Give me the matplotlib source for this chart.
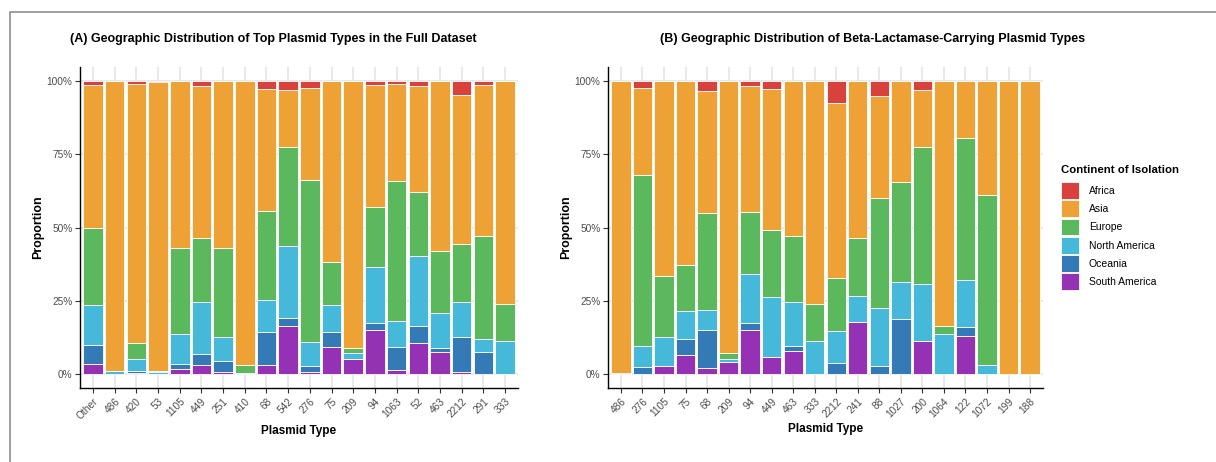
import numpy as np
import matplotlib
matplotlib.use("Agg")
import matplotlib.pyplot as plt
from matplotlib.patches import Patch, Rectangle

plt.rcParams['font.family'] = ['Liberation Sans', 'DejaVu Sans']

continents = ["Africa", "Asia", "Europe", "North America", "Oceania", "South America"]
colors = {
    "Africa": "#D9413D",
    "Asia": "#EEA236",
    "Europe": "#5CB85C",
    "North America": "#46B8DA",
    "Oceania": "#337AB7",
    "South America": "#9531B5",
}

# panel A: top plasmid types, full dataset (percent of isolates per continent)
types_a = ["Other", "486", "420", "53", "1105", "449", "251", "410", "68", "542",
           "276", "75", "209", "94", "1063", "52", "463", "2212", "291", "333"]
sam_a = [3.4, 0, 0.3, 0, 1.6, 3.0, 0.6, 0, 3.0, 16.3, 0.6, 9.1, 4.9, 15.1, 1.4, 10.5, 7.3, 0.7, 0, 0]
oce_a = [6.5, 0, 0.5, 0, 1.7, 3.7, 3.7, 0, 11.1, 2.6, 2.1, 5.0, 0.2, 2.1, 7.7, 5.8, 1.5, 12.0, 7.5, 0]
nam_a = [13.5, 0.9, 4.1, 0.6, 10.3, 17.9, 8.4, 0.3, 11.2, 24.9, 8.2, 9.3, 1.9, 19.2, 8.9, 24.0, 12.0, 11.7, 4.2, 11.2]
eur_a = [26.4, 0, 5.6, 0.3, 29.5, 21.8, 30.4, 2.7, 30.3, 33.7, 55.3, 14.8, 1.8, 20.6, 47.9, 21.8, 21.2, 20.1, 35.5, 12.6]
asi_a = [49.1, 99.1, 88.7, 98.8, 56.9, 51.9, 56.9, 97.0, 41.8, 19.5, 31.5, 61.8, 91.2, 41.6, 33.2, 36.2, 58.0, 50.8, 51.7, 76.2]
afr_a = [1.1, 0, 0.8, 0.3, 0, 1.7, 0, 0, 2.6, 3.0, 2.3, 0, 0, 1.4, 0.9, 1.7, 0, 4.7, 1.1, 0]

# panel B: beta-lactamase-carrying plasmid types
types_b = ["486", "276", "1105", "75", "68", "209", "94", "449", "463", "333",
           "2212", "241", "88", "1027", "200", "1064", "122", "1072", "199", "188"]
sam_b = [0, 0, 2.6, 6.4, 2.1, 4.1, 15.1, 5.8, 7.8, 0, 0, 17.8, 0, 0, 11.2, 0, 13.0, 0, 0, 0]
oce_b = [0, 2.3, 0, 5.5, 12.7, 0, 2.2, 0, 1.8, 0, 3.6, 0, 2.6, 18.7, 0, 0, 3.0, 0, 0, 0]
nam_b = [0, 7.1, 9.8, 9.7, 6.9, 0.8, 16.7, 20.3, 14.8, 11.2, 10.9, 8.9, 20.0, 12.5, 19.6, 13.7, 16.2, 3.1, 0, 0]
eur_b = [0.2, 58.6, 21.0, 15.7, 33.1, 2.2, 21.2, 23.0, 22.7, 12.5, 18.2, 19.8, 37.4, 34.4, 46.7, 2.6, 48.4, 58.0, 0, 0]
asi_b = [99.8, 29.7, 66.6, 62.7, 42.0, 92.9, 43.2, 48.3, 52.9, 76.3, 59.9, 53.5, 35.1, 34.4, 19.6, 83.7, 19.4, 38.9, 100, 100]
afr_b = [0, 2.3, 0, 0, 3.2, 0, 1.6, 2.6, 0, 0, 7.4, 0, 4.9, 0, 2.9, 0, 0, 0, 0, 0]

W, H = 1216, 462
fig = plt.figure(figsize=(W / 100, H / 100), dpi=100)


def panel(rect, types, series, title, title_x):
    ax = fig.add_axes([rect[0] / W, 1 - rect[3] / H, (rect[2] - rect[0]) / W, (rect[3] - rect[1]) / H])
    x = np.arange(len(types))
    bottom = np.zeros(len(types))
    # stack from the bottom: South America up to Africa
    for name in continents[::-1]:
        vals = np.array(series[name]) / 100.0
        ax.bar(x, vals, bottom=bottom, width=0.9, color=colors[name],
               edgecolor="white", linewidth=0.6, zorder=2)
        bottom += vals
    ax.set_xlim(-0.6, len(types) - 0.4)
    ax.set_ylim(-0.05, 1.05)
    ax.set_yticks([0, 0.25, 0.5, 0.75, 1.0])
    ax.set_yticklabels(["0%", "25%", "50%", "75%", "100%"])
    ax.set_xticks(x)
    ax.set_xticklabels(types, rotation=45, ha="right", rotation_mode="anchor")
    ax.grid(True, color="#e3e3e3", linewidth=1.1, zorder=0)
    ax.set_axisbelow(True)
    for s in ["top", "right"]:
        ax.spines[s].set_visible(False)
    for s in ["left", "bottom"]:
        ax.spines[s].set_linewidth(1.0)
        ax.spines[s].set_color("black")
    ax.tick_params(axis="both", labelsize=7.3, labelcolor="#4d4d4d", length=3.5,
                   width=0.8, color="#333333", pad=2)
    ax.set_xlabel("Plasmid Type", fontsize=8.5, fontweight="bold", labelpad=3)
    ax.set_ylabel("Proportion", fontsize=8.9, fontweight="bold", labelpad=2)
    fig.text(title_x / W, 1 - 39 / H, title, ha="center", va="center",
             fontsize=9.0, fontweight="bold")
    return ax


panel((80, 66.7, 518, 388.3), types_a,
      {"Africa": afr_a, "Asia": asi_a, "Europe": eur_a, "North America": nam_a,
       "Oceania": oce_a, "South America": sam_a},
      "(A) Geographic Distribution of Top Plasmid Types in the Full Dataset", 273.5)
panel((608, 66.7, 1043, 388.3), types_b,
      {"Africa": afr_b, "Asia": asi_b, "Europe": eur_b, "North America": nam_b,
       "Oceania": oce_b, "South America": sam_b},
      "(B) Geographic Distribution of Beta-Lactamase-Carrying Plasmid Types", 873)

handles = [Patch(facecolor=colors[c], edgecolor="white", linewidth=0.6) for c in continents]
leg = fig.legend(handles, continents, loc="upper left", bbox_to_anchor=(1058 / W, 1 - 162 / H),
                 frameon=False, fontsize=7.5, title="Continent of Isolation",
                 title_fontproperties={"weight": "bold", "size": 8.2},
                 handlelength=1.75, handleheight=2.13, labelspacing=0.12,
                 handletextpad=0.9, borderaxespad=0, borderpad=0.3, alignment="left")
leg._legend_box.sep = 5

# outer frame
fig.patches.append(Rectangle((9.5 / W, -0.1), 1.2, 1.1 - 12.5 / H, transform=fig.transFigure,
                             fill=False, edgecolor="#8f8f8f", linewidth=1.2))

fig.savefig("out.png", dpi=100)
